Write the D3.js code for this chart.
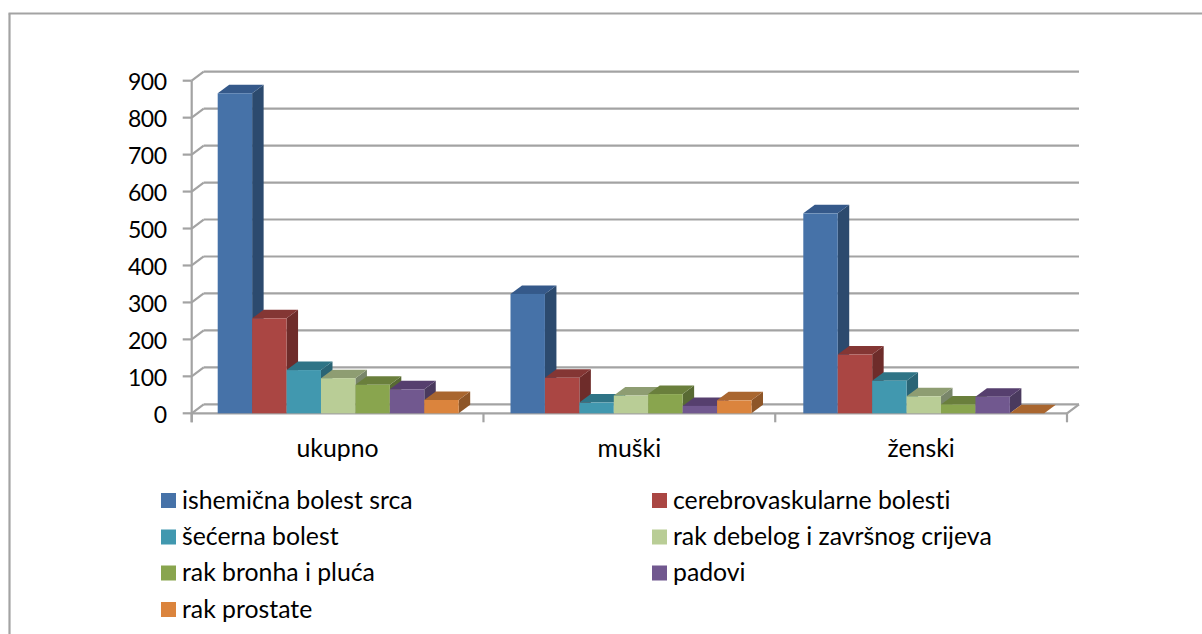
<!DOCTYPE html>
<html><head><meta charset="utf-8">
<script src="https://cdnjs.cloudflare.com/ajax/libs/d3/7.8.5/d3.min.js"></script>
<style>html,body{margin:0;padding:0;background:#fff}svg{display:block}text{font-family:Lato,"Open Sans",sans-serif;fill:#000;font-variant-ligatures:none;font-feature-settings:"liga" 0}</style>
</head><body><svg id="c" width="1202" height="634"></svg>
<script>
const categories = ["ukupno","muški","ženski"];
const seriesNames = ["ishemična bolest srca","cerebrovaskularne bolesti","šećerna bolest","rak debelog i završnog crijeva","rak bronha i pluća","padovi","rak prostate"];
const ukupno = [866,257,117,95,77,65,36];
const muski = [323,96,29,48,52,20,35];
const zenski = [541,159,88,46,24,45,0];
const valuesByCategory = [ukupno,muski,zenski];
const yTicks = [0,100,200,300,400,500,600,700,800,900];
const frontColors = ["#4672a8","#aa4643","#4198af","#b9cd96","#89a54e","#71588f","#db843d"];
const sideColors = ["#2c4a6e","#6e2c2a","#2a6475","#79866a","#586a33","#4a3a5e","#8e5628"];
const topColors = ["#35598a","#843634","#2f7486","#8e9d72","#6a7f3c","#563f6e","#a9662f"];

const svg = d3.select("#c");
const L=191.7,R=1067,B=413.3,T=80.7,DX=12,DY=9,BDX=11.5,BDY=8.5;
const y=d3.scaleLinear().domain([0,900]).range([B,T]);
const x0=d3.scaleBand().domain(categories).range([L,R]);
const xBars=d3.scaleBand().domain(categories).range([L,L+878.4]);
const x1=d3.scaleBand().domain(seriesNames).range([26,267]);
const grid="#a3a3a3";

const g=svg.append("g");
const line=(a,b,c,d,w=2.2)=>g.append("line").attr("x1",a).attr("y1",b).attr("x2",c).attr("y2",d).attr("stroke",grid).attr("stroke-width",w);
line(8.5,13.5,1202,13.5);
line(9.5,13.5,9.5,634);
yTicks.forEach(t=>{
  const v=y(t);
  line(L+DX,v-DY,R+DX,v-DY);
  line(L,v,L+DX,v-DY);
  line(L-9,v,L,v);
  g.append("text").attr("x",166.5).attr("y",v+9.5).attr("text-anchor","end").attr("font-size",23).attr("letter-spacing",-0.5).text(t);
});
line(L,T,L,B+9);
line(L,B,R,B);
line(R,B,R+DX,B-DY);
x0.domain().forEach(c=>line(x0(c),B,x0(c),B+9));
line(R,B,R,B+9);

categories.forEach((c,ci)=>{
  g.append("text").attr("x",x0(c)+x0.bandwidth()/2).attr("y",457).attr("text-anchor","middle").attr("font-size",24.8).text(c);
  const cg=g.append("g");
  valuesByCategory[ci].forEach((v,si)=>{
    const s=seriesNames[si];
    const a=xBars(c)+x1(s), b=a+x1.bandwidth(), t=y(v);
    const poly=(pts,f)=>cg.append("polygon").attr("points",pts.map(p=>p.join(",")).join(" ")).attr("fill",f);
    if(v>0) poly([[b,B],[b+BDX,B-BDY],[b+BDX,t-BDY],[b,t]],sideColors[si]);
    poly([[a,t],[a+BDX,t-BDY],[b+BDX,t-BDY],[b,t]],topColors[si]);
    if(v>0) cg.append("rect").attr("x",a).attr("y",t).attr("width",b-a).attr("height",B-t).attr("fill",frontColors[si]);
  });
});

const lx=[161,652], ly=[500.5,537,573,609.5];
seriesNames.forEach((s,i)=>{
  const col=i%2,row=Math.floor(i/2);
  g.append("rect").attr("x",lx[col]).attr("y",ly[row]-7.5).attr("width",15).attr("height",15).attr("fill",frontColors[i]);
  g.append("text").attr("x",lx[col]+21).attr("y",ly[row]+8).attr("font-size",24.8).text(s);
});
</script></body></html>
